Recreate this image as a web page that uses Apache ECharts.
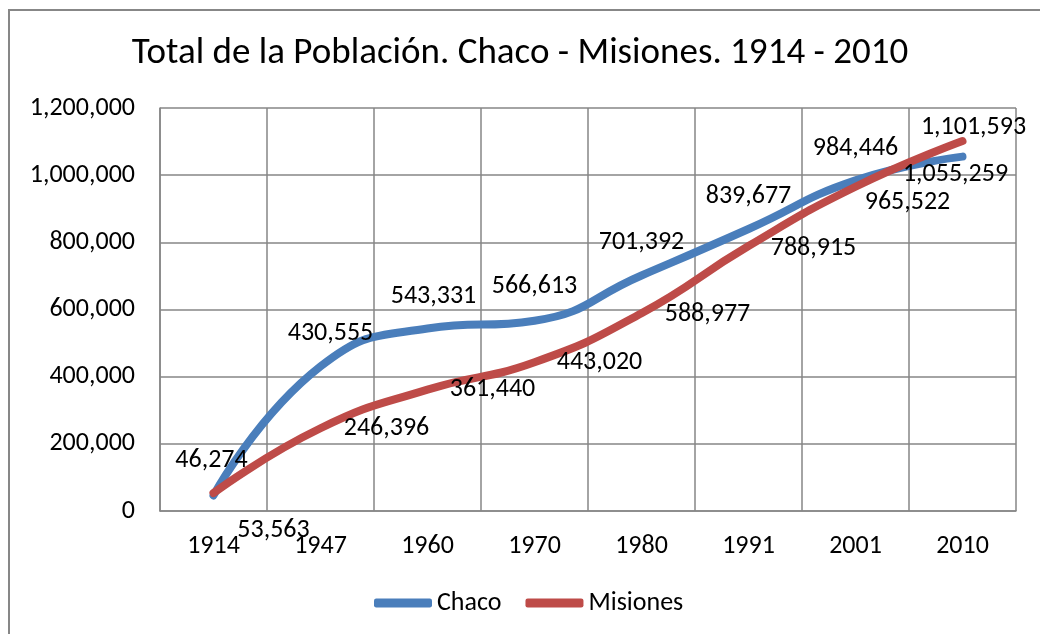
<!DOCTYPE html>
<html>
<head>
<meta charset="utf-8">
<script src="https://cdn.jsdelivr.net/npm/echarts@6/dist/echarts.min.js"></script>
<style>
  html, body { margin: 0; padding: 0; background: #fff; }
  #lineChart { width: 1040px; height: 634px; }
</style>
</head>
<body>
<div id="lineChart"></div>
<script>
const years = ["1914", "1947", "1960", "1970", "1980", "1991", "2001", "2010"];
const chaco = [46274, 430555, 543331, 566613, 701392, 839677, 984446, 1055259];
const misiones = [53563, 246396, 361440, 443020, 588977, 788915, 965522, 1101593];
const yTicks = [0, 200000, 400000, 600000, 800000, 1000000, 1200000];

// where each value label sits relative to its point (px), like the excel placement
const chacoLabelOffset = [[-2, -35], [10, -33], [6, -32], [0, -34], [0, -33], [0, -33], [0, -32], [-7, 18]];
const misionesLabelOffset = [[60, 37], [66, 0], [65, 0], [65, 0], [66, 1], [65, 2], [52, 16], [11, -14]];

const font = "Carlito, Lato, sans-serif";
const fs = 26;
const fmt = (v) => v.toLocaleString("en-US");

function buildData(values, offsets) {
  return values.map((v, i) => ({
    value: v,
    label: { offset: offsets[i] },
  }));
}

const chart = echarts.init(document.getElementById("lineChart"));

let option = {
  animation: false,
  textStyle: { fontFamily: font },
  title: {
    text: "Total de la Población. Chaco - Misiones. 1914 - 2010",
    left: "center",
    top: 30,
    textStyle: { fontFamily: font, fontSize: 37, fontWeight: "normal", color: "#000" },
  },
  graphic: [
    {
      type: "rect",
      shape: { x: 9, y: 10, width: 1200, height: 800 },
      style: { fill: "none", stroke: "#878787", lineWidth: 2 },
      silent: true,
    },
  ],
  legend: {
    top: 585,
    left: 369,
    icon: "roundRect",
    itemWidth: 58,
    itemHeight: 9,
    itemGap: 24,
    textStyle: { fontFamily: font, fontSize: fs, color: "#000" },
    data: ["Chaco", "Misiones"],
  },
  grid: {
    left: 160,
    right: 24,
    top: 108,
    bottom: 123,
  },
  xAxis: {
    type: "category",
    data: years,
    boundaryGap: true,
    axisLine: { lineStyle: { color: "#868686", width: 1.5 } },
    axisTick: { show: false },
    splitLine: { show: true, lineStyle: { color: "#868686", width: 1.5 } },
    axisLabel: { fontFamily: font, fontSize: fs, color: "#000", margin: 22 },
  },
  yAxis: {
    type: "value",
    min: yTicks[0],
    max: yTicks[yTicks.length - 1],
    interval: yTicks[1] - yTicks[0],
    axisLine: { show: true, lineStyle: { color: "#868686", width: 1.5 } },
    axisTick: { show: false },
    splitLine: { lineStyle: { color: "#868686", width: 1.5 } },
    axisLabel: {
      fontFamily: font,
      fontSize: fs,
      color: "#000",
      margin: 25,
      formatter: (v) => fmt(v),
    },
  },
  series: [
    {
      name: "Chaco",
      type: "line",
      smooth: true,
      symbol: "circle",
      symbolSize: 0,
      data: buildData(chaco, chacoLabelOffset),
      lineStyle: { color: "#4A7EBB", width: 8, cap: "round" },
      itemStyle: { color: "#4A7EBB" },
      label: {
        show: true,
        position: "inside",
        fontFamily: font,
        fontSize: fs,
        color: "#000",
        formatter: (p) => fmt(p.value),
      },
    },
    {
      name: "Misiones",
      type: "line",
      smooth: true,
      symbol: "circle",
      symbolSize: 0,
      data: buildData(misiones, misionesLabelOffset),
      lineStyle: { color: "#BE4B48", width: 8, cap: "round" },
      itemStyle: { color: "#BE4B48" },
      label: {
        show: true,
        position: "inside",
        fontFamily: font,
        fontSize: fs,
        color: "#000",
        formatter: (p) => fmt(p.value),
      },
    },
  ],
};
chart.setOption(option);
</script>
</body>
</html>
